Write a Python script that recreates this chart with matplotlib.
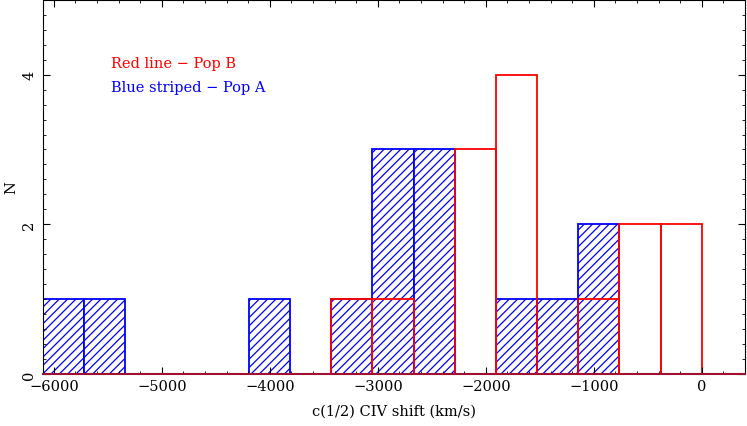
import numpy as np
import matplotlib
matplotlib.use("Agg")
import matplotlib.pyplot as plt
from matplotlib.ticker import MultipleLocator

# histogram of c(1/2) CIV shift, 16 bins from -6100 to 0 km/s
bin_lo = -6100
bin_hi = 0
n_bins = 16
pop_a_counts = [1, 1, 0, 0, 0, 1, 0, 1, 3, 3, 0, 1, 1, 2, 0, 0]  # blue striped
pop_b_counts = [0, 0, 0, 0, 0, 0, 0, 1, 1, 0, 3, 4, 0, 1, 2, 2]  # red line

x_ticks = [-6000, -5000, -4000, -3000, -2000, -1000, 0]
y_ticks = [0, 2, 4]

plt.rcParams['font.family'] = ['DejaVu Serif']
plt.rcParams['hatch.color'] = 'blue'
plt.rcParams['hatch.linewidth'] = 0.9

edges = np.linspace(bin_lo, bin_hi, n_bins + 1)
width = edges[1] - edges[0]

fig = plt.figure(figsize=(7.47, 4.27), dpi=100)
ax = fig.add_axes([0.0576, 0.122, 0.9397, 0.876])

ax.bar(edges[:-1], pop_a_counts, width=width, align='edge',
       facecolor='white', edgecolor='blue', hatch='////', linewidth=1.3)
ax.bar(edges[:-1], pop_b_counts, width=width, align='edge',
       fill=False, edgecolor='red', linewidth=1.3)

ax.set_xlim(-6100, 400)
ax.set_ylim(0, 5)
ax.set_xticks(x_ticks)
ax.set_yticks(y_ticks)
ax.xaxis.set_minor_locator(MultipleLocator(200))
ax.yaxis.set_minor_locator(MultipleLocator(0.2))
ax.tick_params(which='both', direction='in', top=True, right=True, labelsize=10.5)
ax.tick_params(which='major', length=5, width=0.8)
ax.tick_params(which='minor', length=2.5, width=0.6)
plt.setp(ax.get_yticklabels(), rotation=90, va='center')
ax.tick_params(axis='y', pad=5)

# baseline of both histograms runs along the bottom axis
ax.spines['bottom'].set_color('#a01030')
ax.spines['bottom'].set_linewidth(1.5)
ax.spines['bottom'].set_zorder(3)

ax.set_xlabel("c(1/2) CIV shift (km/s)", fontsize=10.5, labelpad=8)
ax.set_ylabel("N", fontsize=10.5, labelpad=3)

ax.text(0.097, 0.83, "Red line − Pop B", color='red', fontsize=10.5,
        transform=ax.transAxes, va='center')
ax.text(0.097, 0.768, "Blue striped − Pop A", color='blue', fontsize=10.5,
        transform=ax.transAxes, va='center')

fig.savefig("out.png", dpi=100)
